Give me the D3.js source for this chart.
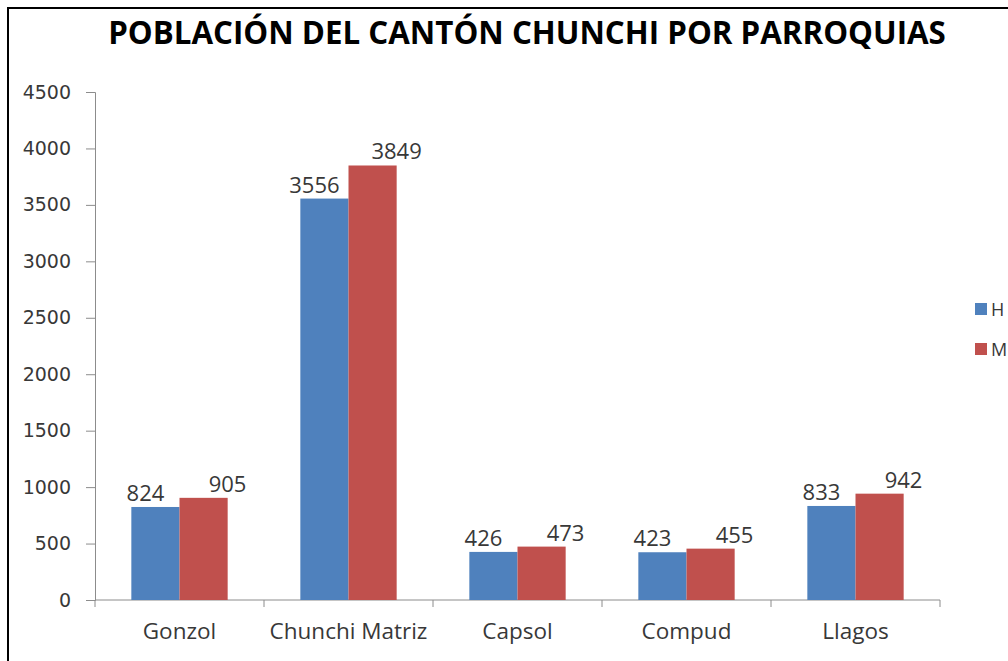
<!DOCTYPE html>
<html>
<head>
<meta charset="utf-8">
<script src="https://cdn.jsdelivr.net/npm/d3@7"></script>
<style>
  html, body { margin: 0; padding: 0; background: #fff; overflow: hidden; }
  svg { display: block; }
</style>
</head>
<body>
<div id="chart"></div>
<script>
const title = 'POBLACIÓN DEL CANTÓN CHUNCHI POR PARROQUIAS';
const parroquias = ['Gonzol', 'Chunchi Matriz', 'Capsol', 'Compud', 'Llagos'];
const series = ['H', 'M']; // only the first letters are visible in the original legend
const hombres = [824, 3556, 426, 423, 833];
const mujeres = [905, 3849, 473, 455, 942];
const yTicks = [0, 500, 1000, 1500, 2000, 2500, 3000, 3500, 4000, 4500];

const width = 1008, height = 661;
const margin = {top: 92, left: 95};
const plotW = 845, plotH = 508;
const colors = ['#4f81bd', '#c0504d'];
const labelShift = [-10, 24]; // labels sit a bit off-centre in the original
const axisColor = '#8c8c8c';
const textColor = '#383838';

const svg = d3.select('#chart').append('svg')
  .attr('width', width)
  .attr('height', height);

// outer frame (right and bottom edges fall outside the picture)
svg.append('rect')
  .attr('x', 8).attr('y', 8)
  .attr('width', width + 20).attr('height', height + 20)
  .attr('fill', 'none')
  .attr('stroke', '#000')
  .attr('stroke-width', 2);

svg.append('text')
  .attr('x', 527).attr('y', 44)
  .attr('text-anchor', 'middle')
  .attr('font-family', '"Open Sans", sans-serif')
  .attr('font-weight', 'bold')
  .attr('font-size', 31.3)
  .attr('fill', '#000')
  .text(title);

const g = svg.append('g')
  .attr('transform', 'translate(' + margin.left + ',' + margin.top + ')');

const x0 = d3.scaleBand().domain(parroquias).range([0, plotW]).paddingInner(0.43).paddingOuter(0.215);
const x1 = d3.scaleBand().domain(series).range([0, x0.bandwidth()]);
const y = d3.scaleLinear().domain([0, 4500]).range([plotH, 0]);

// Y axis
const yAxis = g.append('g')
  .call(d3.axisLeft(y).tickValues(yTicks).tickFormat(d3.format('d')).tickSizeOuter(0).tickSize(9).tickPadding(15));
yAxis.select('.domain').attr('stroke', axisColor);
yAxis.selectAll('.tick line').attr('stroke', axisColor);
yAxis.selectAll('.tick text')
  .attr('font-family', '"DejaVu Sans", sans-serif')
  .attr('font-size', 19)
  .attr('fill', textColor);

// X axis with ticks at the category boundaries
const xAxisG = g.append('g').attr('transform', 'translate(0,' + plotH + ')');
xAxisG.append('line')
  .attr('x1', 0).attr('x2', plotW)
  .attr('stroke', axisColor);
const bounds = d3.range(parroquias.length + 1).map(i => i * plotW / parroquias.length);
xAxisG.selectAll('line.tk').data(bounds).enter().append('line')
  .attr('class', 'tk')
  .attr('x1', d => d).attr('x2', d => d)
  .attr('y1', 0).attr('y2', 7)
  .attr('stroke', axisColor);
xAxisG.selectAll('text').data(parroquias).enter().append('text')
  .attr('x', d => x0(d) + x0.bandwidth() / 2)
  .attr('y', 39)
  .attr('text-anchor', 'middle')
  .attr('font-family', '"Open Sans", sans-serif')
  .attr('font-size', 22.5)
  .attr('fill', textColor)
  .text(d => d);

// bars
const rows = parroquias.map((p, i) => ({p: p, vals: [hombres[i], mujeres[i]]}));
const groups = g.selectAll('g.grp').data(rows).enter().append('g')
  .attr('class', 'grp')
  .attr('transform', d => 'translate(' + x0(d.p) + ',0)');

const cells = d => d.vals.map((v, k) => ({s: series[k], v: v, k: k}));

groups.selectAll('rect').data(cells)
  .enter().append('rect')
  .attr('x', d => x1(d.s))
  .attr('y', d => y(d.v))
  .attr('width', x1.bandwidth())
  .attr('height', d => plotH - y(d.v))
  .attr('fill', d => colors[d.k]);

groups.selectAll('text').data(cells)
  .enter().append('text')
  .attr('x', d => x1(d.s) + x1.bandwidth() / 2 + labelShift[d.k])
  .attr('y', d => y(d.v) - 6)
  .attr('text-anchor', 'middle')
  .attr('font-family', '"Open Sans", sans-serif')
  .attr('font-size', 22)
  .attr('fill', textColor)
  .text(d => d.v);

// legend at the right edge
const legend = svg.append('g').attr('transform', 'translate(975,303)');
series.forEach((s, i) => {
  legend.append('rect')
    .attr('x', 0).attr('y', i * 40)
    .attr('width', 12).attr('height', 12)
    .attr('fill', colors[i]);
  legend.append('text')
    .attr('x', 16).attr('y', i * 40 + 13)
    .attr('font-family', '"Open Sans", sans-serif')
    .attr('font-size', 18)
    .attr('fill', textColor)
    .text(s);
});
</script>
</body>
</html>
